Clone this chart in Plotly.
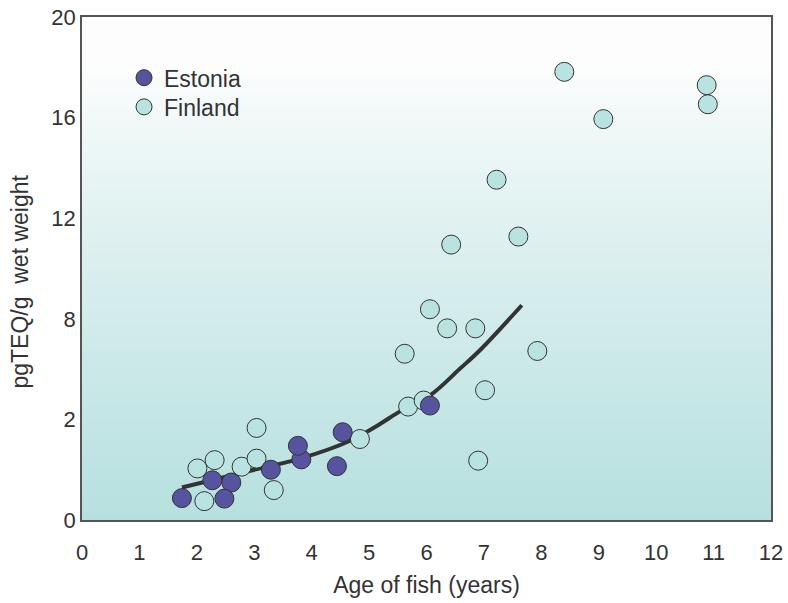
import plotly.graph_objects as go

# ---- data ----
estonia_age = [1.74, 2.27, 2.60, 2.48, 3.29, 3.82, 3.76, 4.44, 4.54, 6.06]
estonia_teq = [0.87, 1.58, 1.49, 0.85, 2.00, 2.41, 2.95, 2.14, 3.49, 4.55]

finland_age = [2.13, 2.01, 2.31, 2.78, 3.04, 3.04, 3.34, 4.84, 6.06, 6.36, 6.85, 5.62,
               7.93, 7.02, 5.68, 5.95, 6.90, 8.40, 9.08, 10.88, 10.90, 7.22, 7.60, 6.43]
finland_teq = [0.75, 2.05, 2.38, 2.12, 2.44, 3.66, 1.19, 3.22, 8.38, 7.62, 7.62, 6.61,
               6.72, 5.16, 4.51, 4.75, 2.36, 17.82, 15.94, 17.29, 16.53, 13.53, 11.27, 10.95]

trend_age = [1.74, 2.93, 3.80, 4.67, 5.19, 5.51, 6.06, 6.59, 6.93, 7.66]
trend_teq = [1.29, 1.96, 2.44, 3.15, 3.82, 4.28, 4.95, 6.03, 6.75, 8.54]

x_ticks = list(range(0, 13))
y_tickvals = [0, 4, 8, 12, 16, 20]
y_ticktext = ["0", "2", "8", "12", "16", "20"]

FONT = "Liberation Sans, Arial, sans-serif"
TXT = "#333333"

fig = go.Figure()

# gradient background strips
n = 100
top = (253, 253, 253)
bot = (182, 224, 223)
shapes = []
for i in range(n):
    t0 = i / n
    t1 = (i + 1) / n
    d = 1 - (t0 + t1) / 2  # distance from top, 0..1
    g = max(0.0, (d - 0.1) / 0.9) ** 0.85
    c = tuple(int(round(top[k] + (bot[k] - top[k]) * g)) for k in range(3))
    shapes.append(dict(type="rect", xref="x domain", yref="y domain",
                       x0=0, x1=1, y0=t0, y1=min(1, t1 + 0.002), layer="below",
                       line=dict(width=0), fillcolor="rgb(%d,%d,%d)" % c))

fig.add_trace(go.Scatter(x=trend_age, y=trend_teq, mode="lines",
                         line=dict(color="#333333", width=4, shape="spline"),
                         showlegend=False, hoverinfo="skip"))

fig.add_trace(go.Scatter(x=finland_age, y=finland_teq, mode="markers", name="Finland",
                         legend="legend2",
                         marker=dict(size=19, color="#b9e3e1",
                                     line=dict(color="#333333", width=1))))
fig.add_trace(go.Scatter(x=estonia_age, y=estonia_teq, mode="markers", name="Estonia",
                         legend="legend",
                         marker=dict(size=19, color="#56539f",
                                     line=dict(color="#333333", width=1))))

legend_common = dict(xanchor="left", yanchor="top", bgcolor="rgba(0,0,0,0)",
                     font=dict(size=23, color=TXT), itemwidth=30)

fig.update_layout(
    width=788, height=603,
    margin=dict(l=82, r=17, t=17, b=83, autoexpand=False),
    paper_bgcolor="white",
    plot_bgcolor="white",
    shapes=shapes,
    font=dict(family=FONT, size=22, color=TXT),
    legend=dict(x=0.061, y=0.922, **legend_common),
    legend2=dict(x=0.061, y=0.864, **legend_common),
    xaxis=dict(range=[0, 12], tickvals=x_ticks, showgrid=False, zeroline=False,
               showline=True, mirror=True, linecolor="#555555", linewidth=1.5,
               ticks="", tickfont=dict(size=22, color=TXT), automargin=False,
               ticklabelstandoff=12, ticklabeloverflow="allow",
               title=dict(text="Age of fish (years)", font=dict(size=23, color=TXT), standoff=13)),
    yaxis=dict(range=[0, 20], tickvals=y_tickvals, ticktext=y_ticktext, showgrid=False,
               zeroline=False, showline=True, mirror=True, linecolor="#555555", linewidth=1.5,
               ticks="", tickfont=dict(size=22, color=TXT), automargin=False,
               ticklabeloverflow="allow"),
    annotations=[dict(text="pgTEQ/g\u00a0\u00a0wet weight", textangle=-90,
                      xref="paper", yref="paper", x=-0.09, y=0.474,
                      xanchor="center", yanchor="middle", showarrow=False,
                      font=dict(size=23, color=TXT, family=FONT))],
)

fig.write_html("out.html", config={"displayModeBar": False},
               post_script="document.body.style.margin='0';document.body.style.overflow='hidden';")
